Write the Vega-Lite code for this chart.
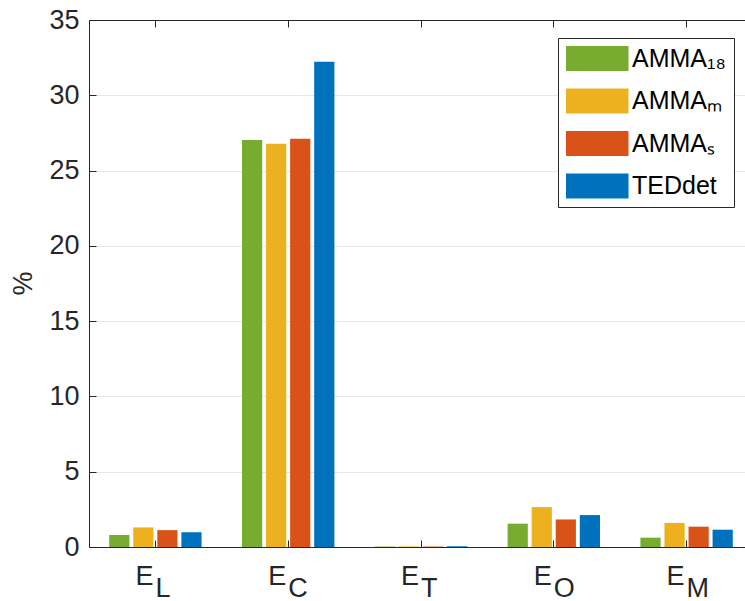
{
  "$schema": "https://vega.github.io/schema/vega-lite/v6.json",
  "width": 656,
  "height": 527,
  "autosize": {"type": "none"},
  "padding": {"left": 89, "top": 20, "right": 0, "bottom": 54},
  "background": "white",
  "config": {
    "font": "Liberation Sans",
    "view": {"stroke": null},
    "axis": {"domainColor": "#262626", "tickColor": "#262626", "labelColor": "#262626", "titleColor": "#262626", "domainWidth": 1, "tickWidth": 1}
  },
  "datasets": {
    "bars": [
      {"group": "L", "model": "AMMA₁₈", "value": 0.8},
      {"group": "L", "model": "AMMAₘ", "value": 1.3},
      {"group": "L", "model": "AMMAₛ", "value": 1.12},
      {"group": "L", "model": "TEDdet", "value": 0.98},
      {"group": "C", "model": "AMMA₁₈", "value": 27.03},
      {"group": "C", "model": "AMMAₘ", "value": 26.78},
      {"group": "C", "model": "AMMAₛ", "value": 27.12},
      {"group": "C", "model": "TEDdet", "value": 32.22},
      {"group": "T", "model": "AMMA₁₈", "value": 0.03},
      {"group": "T", "model": "AMMAₘ", "value": 0.04},
      {"group": "T", "model": "AMMAₛ", "value": 0.03},
      {"group": "T", "model": "TEDdet", "value": 0.05},
      {"group": "O", "model": "AMMA₁₈", "value": 1.55},
      {"group": "O", "model": "AMMAₘ", "value": 2.65},
      {"group": "O", "model": "AMMAₛ", "value": 1.83},
      {"group": "O", "model": "TEDdet", "value": 2.12},
      {"group": "M", "model": "AMMA₁₈", "value": 0.62},
      {"group": "M", "model": "AMMAₘ", "value": 1.6},
      {"group": "M", "model": "AMMAₛ", "value": 1.35},
      {"group": "M", "model": "TEDdet", "value": 1.15}
    ],
    "cats": [
      {"group": "L", "main": "E", "sub": "L"},
      {"group": "C", "main": "E", "sub": "C"},
      {"group": "T", "main": "E", "sub": "T"},
      {"group": "O", "main": "E", "sub": "O"},
      {"group": "M", "main": "E", "sub": "M"}
    ]
  },
  "layer": [
    {
      "data": {"name": "bars"},
      "mark": {"type": "bar"},
      "encoding": {
        "x": {
          "field": "group", "type": "nominal", "sort": ["L", "C", "T", "O", "M"],
          "scale": {"range": [0, 664], "paddingInner": 0, "paddingOuter": 0},
          "axis": {"orient": "bottom", "labels": false, "title": null, "tickSize": -7, "grid": false}
        },
        "xOffset": {
          "field": "model", "type": "nominal", "sort": ["AMMA₁₈", "AMMAₘ", "AMMAₛ", "TEDdet"],
          "scale": {"paddingInner": 0.16, "paddingOuter": 0.84}
        },
        "y": {
          "field": "value", "type": "quantitative",
          "scale": {"domain": [0, 35], "nice": false},
          "axis": {
            "values": [0, 5, 10, 15, 20, 25, 30, 35], "grid": true, "gridColor": "#e6e6e6",
            "tickSize": -7, "labelPadding": 17, "labelFontSize": 27,
            "title": "%", "titleFontSize": 27, "titleFontWeight": "normal",
            "titleAngle": -90, "titleX": -66, "titleY": 263, "titleAlign": "center", "titleBaseline": "middle"
          }
        },
        "color": {
          "field": "model", "type": "nominal",
          "scale": {"domain": ["AMMA₁₈", "AMMAₘ", "AMMAₛ", "TEDdet"], "range": ["#77AC30", "#EDB120", "#D95319", "#0072BD"]},
          "legend": {
            "orient": "none", "legendX": 469, "legendY": 18, "title": null,
            "symbolType": "M-1,-1H4.0V1H-1Z", "symbolSize": 625, "symbolStrokeWidth": 0, "symbolOpacity": 1,
            "labelFontSize": 25, "labelColor": "#000000", "labelOffset": 41, "labelLimit": 300,
            "labelExpr": "datum.label + '\u2002'",
            "rowPadding": 16.5, "padding": 8, "strokeColor": "#262626", "fillColor": "white"
          }
        }
      }
    },
    {
      "data": {"name": "cats"},
      "mark": {"type": "text", "align": "right", "baseline": "alphabetic", "dx": -2, "dy": 38, "fontSize": 27, "color": "#262626"},
      "encoding": {
        "x": {
          "field": "group", "type": "nominal", "sort": ["L", "C", "T", "O", "M"],
          "axis": {"orient": "top", "labels": false, "title": null, "tickSize": -7, "grid": false}
        },
        "y": {"datum": 0},
        "text": {"field": "main"}
      }
    },
    {
      "data": {"name": "cats"},
      "mark": {"type": "text", "align": "left", "baseline": "alphabetic", "dx": 0, "dy": 50, "fontSize": 27, "color": "#262626"},
      "encoding": {
        "x": {"field": "group", "type": "nominal", "sort": ["L", "C", "T", "O", "M"], "axis": null},
        "y": {"datum": 0},
        "text": {"field": "sub"}
      }
    }
  ],
  "resolve": {"axis": {"x": "independent"}}
}
